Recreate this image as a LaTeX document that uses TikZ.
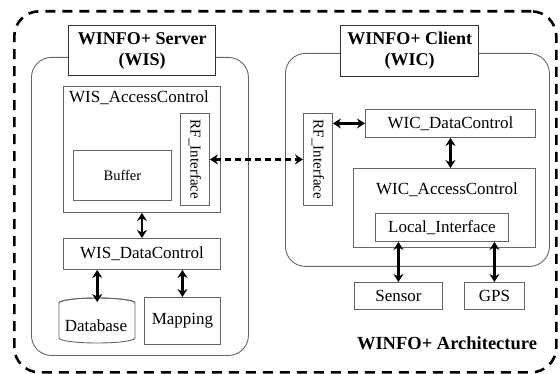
\documentclass[tikz,border=0pt]{standalone}
\usepackage{fontspec}
\setmainfont{Liberation Serif}
\usetikzlibrary{arrows.meta}
\begin{document}
\begin{tikzpicture}[x=1pt,y=-1pt,
  box/.style={draw=black!60, line width=0.9pt, inner sep=0pt, anchor=north west, font=\fontsize{17}{20}\selectfont},
  titlebox/.style={draw=black!80, line width=1.3pt, fill=white, inner sep=0pt, anchor=north west, align=center, font=\fontsize{18}{21}\selectfont\bfseries},
  group/.style={draw=black!60, line width=0.9pt, rounded corners=20pt, anchor=north west, inner sep=0pt},
  lbl/.style={inner sep=0pt, font=\fontsize{17}{20}\selectfont},
  arr/.style={{Stealth[length=8pt,width=10pt]}-{Stealth[length=8pt,width=10pt]}, line width=2.6pt},
  darr/.style={arr, dash pattern=on 6pt off 4pt}
]
\useasboundingbox (0,0) rectangle (560,374);
% outer dashed frame
\node[draw=black, line width=2.6pt, dash pattern=on 10pt off 7pt, rounded corners=25pt, anchor=north west, minimum width=542pt, minimum height=361pt, inner sep=0pt] (outer) at (13,10) {};
% groups
\node[group, minimum width=217pt, minimum height=298pt] (server) at (31,57) {};
\node[group, minimum width=264pt, minimum height=213pt] (client) at (285,53) {};
% titles
\node[titlebox, minimum width=147pt, minimum height=50pt] (stitle) at (68,25) {WINFO+ Server\\(WIS)};
\node[titlebox, minimum width=138pt, minimum height=51pt] (ctitle) at (340,25) {WINFO+ Client\\(WIC)};
% server side
\node[box, minimum width=157pt, minimum height=126pt] (wisac) at (63,86) {};
\node[lbl] (wisaclbl) at (139,98) {WIS\_AccessControl};
\node[box, minimum width=29pt, minimum height=92pt] (rfs) at (180,113) {};
\node[lbl, rotate=-90, font=\fontsize{15}{18}\selectfont] (rfslbl) at (rfs.center) {RF\_Interface};
\node[box, minimum width=98pt, minimum height=50pt, font=\fontsize{14.5}{17}\selectfont] (buffer) at (73,150) {Buffer};
\node[box, minimum width=157pt, minimum height=31pt] (wisdc) at (63,238) {WIS\_DataControl};
\node[inner sep=0pt, minimum width=76pt, minimum height=45pt, anchor=north west] (db) at (59,298) {};
\draw[draw=black!60, line width=0.9pt, fill=white] (59,303) -- (59,338) arc[start angle=180, end angle=360, x radius=38pt, y radius=5pt] -- (135,303) arc[start angle=0, end angle=180, x radius=38pt, y radius=5pt] -- cycle;
\draw[draw=black!60, line width=0.9pt] (59,303) arc[start angle=180, end angle=360, x radius=38pt, y radius=-5pt];
\node[lbl] (dblbl) at (96,326) {Database};
\node[box, minimum width=76pt, minimum height=47pt] (map) at (144,297) {Mapping};
% client side
\node[box, minimum width=29pt, minimum height=92pt] (rfc) at (303,113) {};
\node[lbl, rotate=-90, font=\fontsize{15}{18}\selectfont] (rfclbl) at (rfc.center) {RF\_Interface};
\node[box, minimum width=170pt, minimum height=28pt] (wicdc) at (365,109) {WIC\_DataControl};
\node[box, minimum width=182pt, minimum height=79pt] (wicac) at (353,168) {};
\node[lbl] (wicaclbl) at (447,190) {WIC\_AccessControl};
\node[box, minimum width=133pt, minimum height=28pt] (li) at (375,213) {Local\_Interface};
\node[box, minimum width=88pt, minimum height=27pt] (sensor) at (354,282) {Sensor};
\node[box, minimum width=60pt, minimum height=27pt] (gps) at (464,282) {GPS};
\node[inner sep=0pt, font=\fontsize{18.5}{21}\selectfont\bfseries] (arch) at (447,343) {WINFO+ Architecture};
% connectors
\draw[arr] (wisac.south) -- (wisdc.north);
\draw[arr] (wisdc.south -| db) -- ([yshift=-4pt]db.north);
\draw[arr] (wisdc.south -| map) -- (map.north);
\draw[darr] (rfs.east) -- (rfc.west);
\draw[arr] (rfc.east |- wicdc) -- (wicdc.west);
\draw[arr] (wicdc.south) -- (wicdc.south |- wicac.north);
\draw[arr] (li.south -| sensor) -- (sensor.north);
\draw[arr] (li.south -| gps) -- (gps.north);
\end{tikzpicture}
\end{document}
